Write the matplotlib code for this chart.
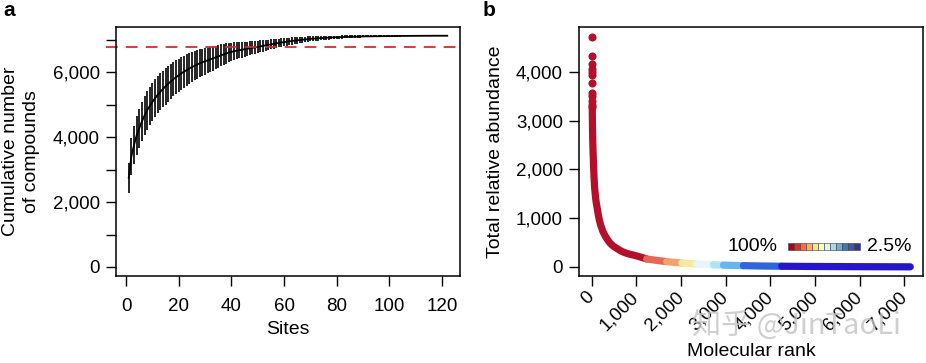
import numpy as np
import matplotlib
matplotlib.use("Agg")
import matplotlib.pyplot as plt
from matplotlib.patches import Rectangle

plt.rcParams['font.family'] = ['Liberation Sans', 'DejaVu Sans']

# ---------------- panel a: accumulation curve ----------------
sites = list(range(1, 123))
mean_compounds = [
    2750, 3400, 3750, 4050, 4270, 4480, 4660, 4820, 4960, 5080,
    5190, 5300, 5390, 5480, 5560, 5640, 5710, 5780, 5840, 5900,
    5960, 6010, 6060, 6110, 6150, 6190, 6230, 6270, 6300, 6330,
    6360, 6390, 6420, 6450, 6480, 6510, 6540, 6570, 6595, 6620,
    6640, 6655, 6670, 6685, 6700, 6715, 6730, 6745, 6758, 6770,
    6790, 6805, 6820, 6835, 6850, 6865, 6880, 6895, 6908, 6920,
    6932, 6943, 6954, 6965, 6975, 6984, 6993, 7002, 7011, 7020,
    7026, 7032, 7038, 7043, 7048, 7053, 7058, 7062, 7066, 7070,
    7073, 7076, 7079, 7081, 7083, 7085, 7087, 7089, 7092, 7095,
    7096, 7097, 7098, 7099, 7100, 7101, 7102, 7103, 7104, 7105,
    7106, 7107, 7108, 7109, 7110, 7110, 7111, 7112, 7112, 7113,
    7113, 7114, 7114, 7115, 7115, 7115, 7116, 7116, 7116, 7116,
    7116, 7116]
sd_compounds = [
    465, 570, 590, 600, 600, 600, 600, 595, 590, 585,
    580, 575, 570, 565, 560, 550, 540, 530, 520, 510,
    500, 490, 480, 470, 460, 450, 440, 430, 420, 410,
    400, 390, 380, 365, 350, 340, 325, 310, 295, 280,
    270, 260, 250, 240, 230, 222, 214, 206, 198, 190,
    182, 175, 168, 161, 154, 148, 142, 136, 130, 124,
    118, 113, 108, 103, 98, 94, 90, 86, 82, 78,
    75, 72, 69, 66, 63, 60, 58, 56, 54, 52,
    50, 48, 46, 44, 42, 40, 38, 36, 34, 32,
    30, 29, 28, 27, 26, 25, 24, 23, 22, 21,
    20, 19, 18, 17, 16, 15, 14, 13, 12, 11,
    10, 9, 8, 7, 6, 5, 4, 3, 2, 2,
    1, 0]
threshold = 6760

# ---------------- panel b: rank abundance ----------------
top_ranks = [1, 2, 3, 4, 5, 6, 7, 8, 9, 10, 11, 12]
top_abund = [4720, 4330, 4160, 4060, 3990, 3940, 3780, 3570, 3510, 3400, 3330, 3280]
curve_ranks = [13, 16, 20, 25, 30, 36, 45, 55, 65, 74, 90, 105, 125, 150, 175, 200,
               250, 300, 335, 400, 480, 560, 650, 750, 850, 930, 1050, 1230, 1375,
               1500, 1680, 1850, 2015, 2200, 2350, 2550, 2723, 2950, 3150, 3395,
               3800, 4253, 5000, 6000, 7130]
curve_abund = [3250, 3000, 2750, 2550, 2380, 2236, 2000, 1800, 1640, 1545, 1400, 1300,
               1200, 1060, 950, 862, 730, 640, 588, 500, 430, 383, 330, 290, 262, 246,
               215, 165, 145, 130, 110, 95, 82, 70, 60, 52, 45, 38, 32, 27, 20, 15,
               10, 6, 3]
bin_edges = [0, 1230, 1680, 2015, 2350, 2723, 2950, 3395, 4253, 7130]
bin_colors = ['#b5102b', '#e66656', '#f2a26c', '#fbe7a2', '#e6f6f8',
              '#b0e4f4', '#64b8ef', '#3264de', '#2616c8']
legend_colors = ['#a50026', '#d73027', '#f46d43', '#fdae61', '#fee090', '#ffffbf',
                 '#e0f3f8', '#abd9e9', '#74add1', '#4575b4', '#3a57a8', '#313695']

fig = plt.figure(figsize=(9.26, 3.63), dpi=100)
ax1 = fig.add_axes([116/926, 87/363, 344/926, 249/363])
ax2 = fig.add_axes([579/926, 87/363, 344/926, 249/363])

for ax in (ax1, ax2):
    for s in ax.spines.values():
        s.set_linewidth(1.1)
    ax.tick_params(direction='out', length=7.5, width=1.0, labelsize=13.5, pad=4)

# panel a
m = np.array(mean_compounds)
sd = np.array(sd_compounds)
ax1.vlines(sites, m - sd, m + sd, color='black', lw=1.2)
ax1.plot(sites, m, color='black', lw=1.3)
ax1.plot([-0.03, 1.0], [threshold, threshold], color='#e2262f', lw=1.3,
         ls=(0, (6.5, 4.5)), transform=ax1.get_yaxis_transform(), clip_on=False)
ax1.set_xlim(-3.84, 126.84)
ax1.set_ylim(-277, 7385)
ax1.set_xticks(range(0, 121, 20))
ax1.tick_params(axis='x', pad=8)
ax1.set_yticks(range(0, 7001, 1000))
ax1.set_yticklabels(['0', '', '2,000', '', '4,000', '', '6,000', ''])
ax1.set_xlabel('Sites', fontsize=14)
ax1.xaxis.set_label_coords(0.5, -54/249)
ax1.xaxis.label.set_va('center')
ax1.set_ylabel('Cumulative number\nof compounds', fontsize=14, linespacing=1.3)
ax1.yaxis.set_label_coords(-95/344, 0.5)
ax1.yaxis.label.set_va('center')

# panel b
cr = np.array(curve_ranks)
ca = np.array(curve_abund)
for lo, hi, col in zip(bin_edges[:-1], bin_edges[1:], bin_colors):
    sel = (cr >= lo) & (cr <= hi)
    ax2.plot(cr[sel], ca[sel], color=col, lw=5.2, solid_capstyle='round',
             solid_joinstyle='round')
ax2.scatter(top_ranks, top_abund, s=34, color=bin_colors[0], lw=0, zorder=3)
ax2.set_xlim(-284, 7415)
ax2.set_ylim(-185, 4923)
ax2.set_xticks(range(0, 7001, 1000))
ax2.set_xticklabels([f'{v:,}' for v in range(0, 7001, 1000)], rotation=45,
                    ha='right', va='center', rotation_mode='anchor')
ax2.tick_params(axis='x', pad=6)
ax2.set_yticks(range(0, 4001, 1000))
ax2.set_yticklabels([f'{v:,}' for v in range(0, 4001, 1000)])
ax2.set_xlabel('Molecular rank', fontsize=14)
ax2.xaxis.set_label_coords(0.5, -76/249)
ax2.xaxis.label.set_va('center')
ax2.set_ylabel('Total relative abundance', fontsize=14)
ax2.yaxis.set_label_coords(-84/344, 0.5)
ax2.yaxis.label.set_va('center')

# colour key
ax2.text(0.578, 0.12, '100%', transform=ax2.transAxes, ha='right', va='center',
         fontsize=14)
sq_w = 6 / 344
for i, col in enumerate(legend_colors):
    ax2.add_patch(Rectangle((0.6076 + i * sq_w, 0.105), sq_w, 0.026,
                            transform=ax2.transAxes, facecolor=col,
                            edgecolor='#3a3a3a', lw=0.4))
ax2.text(0.837, 0.12, '2.5%', transform=ax2.transAxes, ha='left', va='center',
         fontsize=14)

fig.text(3/926, 1 - 10/363, 'a', fontsize=15, fontweight='bold', va='center')
fig.text(483/926, 1 - 10/363, 'b', fontsize=15, fontweight='bold', va='center')

fig.text(797/926, 1 - 327/363, '知乎 @JinTaoLi', fontsize=21, color='#c4c4c4',
         alpha=0.8, ha='center', va='center',
         family=['Noto Sans CJK SC', 'DejaVu Sans'])

fig.savefig('out.png', dpi=100)
